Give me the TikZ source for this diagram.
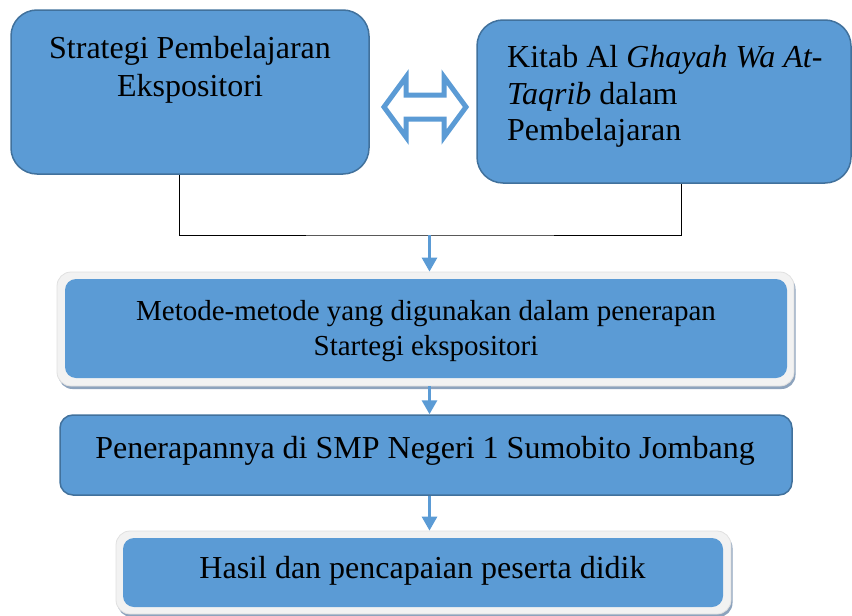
\documentclass[tikz,border=0pt]{standalone}
\usepackage{fontspec}
\setmainfont{Liberation Serif}
\usetikzlibrary{arrows.meta,shadows}
\definecolor{kotakbiru}{HTML}{5B9BD5}
\definecolor{garisbiru}{HTML}{41719C}
\definecolor{bingkai}{HTML}{F2F2F2}
\definecolor{bayangan}{HTML}{8DA3BD}
\tikzset{
  kotak/.style={draw=garisbiru, fill=kotakbiru, line width=1.5pt, rounded corners=13pt, inner sep=0pt},
  bingkaikotak/.style={draw=black!12, fill=bingkai, line width=0.8pt, rounded corners=14pt, inner sep=0pt,
    drop shadow={shadow xshift=1.5pt, shadow yshift=-3pt, fill=bayangan, opacity=1}},
  isikotak/.style={fill=kotakbiru, rounded corners=11pt, inner sep=0pt},
  teks/.style={inner sep=0pt, font=\fontsize{32}{38}\selectfont},
  panah/.style={draw=kotakbiru, line width=3pt, -{Triangle[width=15pt,length=14pt]}},
}
\begin{document}
\begin{tikzpicture}[x=1pt,y=-1pt]
  \useasboundingbox (0,0) rectangle (852,616);
  \node[kotak, rounded corners=26pt, minimum width=358, minimum height=164] (strategi) at (190,92) {};
  \node[teks, align=center, anchor=north] (strategiteks) at (190,36) {Strategi Pembelajaran\\Ekspositori};
  \node[kotak, rounded corners=26pt, minimum width=374, minimum height=163] (kitab) at (664,101.5) {};
  \node[teks, font=\fontsize{32}{36.7}\selectfont, align=left, anchor=north west] (kitabteks) at (507,45)
    {Kitab Al \textit{Ghayah Wa At-}\\\textit{Taqrib} dalam\\Pembelajaran};
  \draw[draw=kotakbiru, fill=white, line width=5pt] (384,107) -- (406,77) -- (406,95) -- (444,95) -- (444,77)
    -- (466,107) -- (444,137) -- (444,119) -- (406,119) -- (406,137) -- cycle;
  \node[bingkaikotak, minimum width=737, minimum height=114] (metode) at (425.5,329) {};
  \node[isikotak, minimum width=722, minimum height=99] (metodeisi) at (426,328.5) {};
  \node[teks, font=\fontsize{29}{35}\selectfont, align=center, anchor=north] (metodeteks) at (426,300)
    {Metode-metode yang digunakan dalam penerapan\\Startegi ekspositori};
  \node[kotak, minimum width=732, minimum height=80] (terap) at (426,455) {};
  \node[teks, anchor=base] (terapteks) at (425,458) {Penerapannya di SMP Negeri 1 Sumobito Jombang};
  \node[bingkaikotak, minimum width=615, minimum height=83] (hasil) at (423.5,572.5) {};
  \node[isikotak, minimum width=600, minimum height=69] (hasilisi) at (423,572.5) {};
  \node[teks, anchor=base] (hasilteks) at (422.5,578) {Hasil dan pencapaian peserta didik};
  \coordinate (temu) at (429.5,235);
  \draw[line width=0.8pt] ([xshift=-11pt]strategi.south) |- (temu) -| ([xshift=17pt]kitab.south);
  \draw[panah] (temu) -- (temu |- metode.north);
  \draw[panah] (metode.south -| temu) -- (temu |- terap.north);
  \draw[panah] (terap.south -| temu) -- (temu |- hasil.north);
\end{tikzpicture}
\end{document}
